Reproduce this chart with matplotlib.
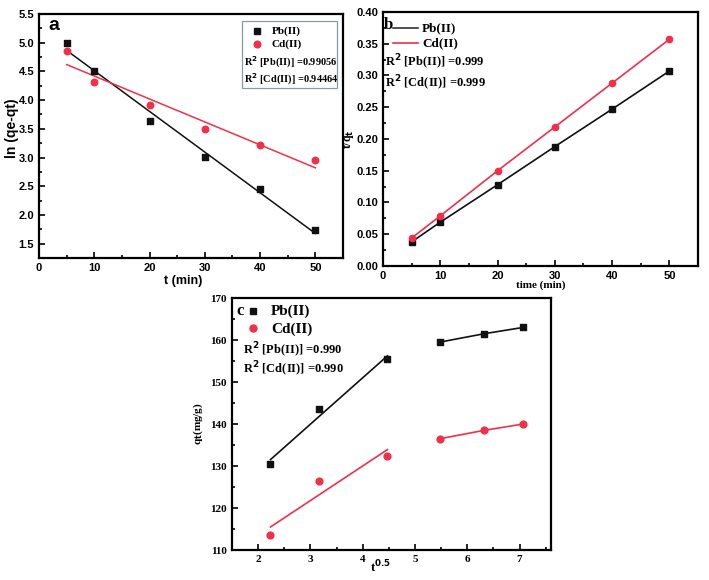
import numpy as np
import matplotlib
matplotlib.use("Agg")
import matplotlib.pyplot as plt
from matplotlib.ticker import MultipleLocator, FormatStrFormatter
from matplotlib.patches import Rectangle

# ---- data ----
t_a = [5, 10, 20, 30, 40, 50]
pb_a = [5.00, 4.51, 3.64, 3.01, 2.45, 1.73]
cd_a = [4.85, 4.31, 3.91, 3.49, 3.21, 2.95]

t_b = [5, 10, 20, 30, 40, 50]
pb_b = [0.038, 0.069, 0.128, 0.188, 0.247, 0.307]
cd_b = [0.044, 0.079, 0.150, 0.219, 0.288, 0.357]

t_c = [2.236, 3.162, 4.472, 5.477, 6.325, 7.071]
pb_c = [130.5, 143.5, 155.5, 159.5, 161.5, 163.0]
cd_c = [113.5, 126.5, 132.5, 136.5, 138.5, 140.0]

labels = ["Pb(II)", "Cd(II)"]
r2_a = ["0.99056", "0.94464"]
r2_b = ["0.999", "0.999"]
r2_c = ["0.990", "0.990"]

BLACK = "#111111"
RED = "#f0304a"

fig = plt.figure(figsize=(7.09, 5.80), dpi=100)
W, H = 709, 580

def ax_px(l, t, r, b):
    ax = fig.add_axes([l / W, 1 - b / H, (r - l) / W, (b - t) / H])
    ax._px = (l, t, r, b)
    return ax

def frac(ax, px, py):
    l, t, r, b = ax._px
    return (px - l) / (r - l), 1 - (py - t) / (b - t)

def style(ax, lw=1.6):
    for s in ax.spines.values():
        s.set_linewidth(lw)
    ax.tick_params(which="both", direction="in", top=False, right=False, width=1.2)
    ax.tick_params(which="major", length=4)
    ax.tick_params(which="minor", length=2.5)

SANS = "Liberation Sans"
SERIF = "Liberation Serif"

def r2text(name, val):
    return r"R$^{\mathbf{2}}$ [" + name + "] =" + val

# ---- panel a ----
axa = ax_px(39, 14, 343, 258)
style(axa)
axa.scatter(t_a, pb_a, marker="s", s=16, color=BLACK, zorder=3)
axa.scatter(t_a, cd_a, marker="o", s=22, color=RED, zorder=3)
xa = np.array([t_a[0], t_a[-1]])
pa = np.polyfit(t_a, pb_a, 1)
ca = np.polyfit(t_a, cd_a, 1)
axa.plot(xa, np.polyval(pa, xa), color=BLACK, lw=1.1)
axa.plot(xa, np.polyval(ca, xa), color=RED, lw=1.1)
axa.set_xlim(0, 55)
axa.set_ylim(1.25, 5.5)
axa.set_xticks([0, 10, 20, 30, 40, 50])
axa.xaxis.set_minor_locator(MultipleLocator(5))
axa.yaxis.set_major_locator(MultipleLocator(0.5))
axa.yaxis.set_minor_locator(MultipleLocator(0.25))
for lab in axa.get_xticklabels() + axa.get_yticklabels():
    lab.set_fontfamily(SANS); lab.set_fontweight("bold"); lab.set_fontsize(8)
axa.set_xlabel("t (min)", fontfamily=SANS, fontweight="bold", fontsize=9)
axa.xaxis.set_label_coords(*frac(axa, 183, 281))
axa.xaxis.label.set_va("center")
axa.set_ylabel("ln (qe-qt)", fontfamily=SANS, fontweight="bold", fontsize=10)
axa.yaxis.set_label_coords(*frac(axa, 12, 128))
axa.yaxis.label.set_va("center")
axa.text(*frac(axa, 48, 17), "a", transform=axa.transAxes, fontfamily=SANS,
         fontweight="bold", fontsize=14, va="top", ha="left")
# legend box
x0, y0 = frac(axa, 242, 88)
x1, y1 = frac(axa, 337, 21)
axa.add_patch(Rectangle((x0, y0), x1 - x0, y1 - y0, transform=axa.transAxes,
                        fill=True, facecolor="white", edgecolor="#8a9aa0", lw=0.9, zorder=4))
axa.plot(*frac(axa, 257, 31), marker="s", ms=4, color=BLACK, transform=axa.transAxes, zorder=5)
axa.plot(*frac(axa, 257, 44), marker="o", ms=4.8, color=RED, transform=axa.transAxes, zorder=5)
kw = dict(transform=axa.transAxes, fontfamily=SERIF, fontweight="bold", va="center", zorder=5)
axa.text(*frac(axa, 272, 31), labels[0], fontsize=8, **kw)
axa.text(*frac(axa, 272, 44), labels[1], fontsize=8, **kw)
axa.text(*frac(axa, 244, 62), r2text(labels[0], r2_a[0]), fontsize=7.5, **kw)
axa.text(*frac(axa, 244, 79), r2text(labels[1], r2_a[1]), fontsize=7.5, **kw)

# ---- panel b ----
axb = ax_px(383, 12, 698, 266)
style(axb)
axb.plot(t_b, pb_b, color=BLACK, lw=1.2, marker="s", ms=3.8, zorder=3)
axb.plot(t_b, cd_b, color=RED, lw=1.2, marker="o", ms=4.5, zorder=3)
axb.set_xlim(0, 55)
axb.set_ylim(0, 0.40)
axb.set_xticks([0, 10, 20, 30, 40, 50])
axb.xaxis.set_minor_locator(MultipleLocator(5))
axb.yaxis.set_major_locator(MultipleLocator(0.05))
axb.yaxis.set_minor_locator(MultipleLocator(0.025))
axb.yaxis.set_major_formatter(FormatStrFormatter("%.2f"))
for lab in axb.get_xticklabels() + axb.get_yticklabels():
    lab.set_fontfamily(SANS); lab.set_fontweight("bold"); lab.set_fontsize(8)
axb.set_xlabel("time (min)", fontfamily=SERIF, fontweight="bold", fontsize=8, labelpad=0)
axb.set_ylabel(r"t/q$_\mathbf{t}$", fontfamily=SERIF, fontweight="bold", fontsize=8.5)
axb.yaxis.set_label_coords(*frac(axb, 348, 139))
axb.yaxis.label.set_va("center")
kwb = dict(transform=axb.transAxes, fontfamily=SERIF, fontweight="bold", va="center", zorder=5)
axb.text(*frac(axb, 384, 25), "b", fontsize=12, **kwb)
for yy, col, lab in [(28, "#333333", labels[0]), (43, RED, labels[1])]:
    xa0, ya0 = frac(axb, 393, yy)
    xa1, _ = frac(axb, 418, yy)
    axb.plot([xa0, xa1], [ya0, ya0], color=col, lw=1.2, transform=axb.transAxes)
    axb.text(*frac(axb, 422, yy), lab, fontsize=9.5, **kwb)
axb.text(*frac(axb, 385, 62), r2text(labels[0], r2_b[0]), fontsize=9, **kwb)
axb.text(*frac(axb, 385, 83), r2text(labels[1], r2_b[1]), fontsize=9, **kwb)

# ---- panel c ----
axc = ax_px(232, 298, 551, 550)
style(axc)
axc.scatter(t_c, pb_c, marker="s", s=18, color=BLACK, zorder=3)
axc.scatter(t_c, cd_c, marker="o", s=24, color=RED, zorder=3)
xc = np.array([t_c[0], t_c[2]])
p1 = np.polyfit(t_c[:3], pb_c[:3], 1)
c1 = np.polyfit(t_c[:3], cd_c[:3], 1)
axc.plot(xc, np.polyval(p1, xc), color=BLACK, lw=1.2)
axc.plot(xc, np.polyval(c1, xc), color=RED, lw=1.2)
axc.plot(t_c[3:], pb_c[3:], color=BLACK, lw=1.2)
axc.plot(t_c[3:], cd_c[3:], color=RED, lw=1.2)
axc.set_xlim(1.5, 7.6)
axc.set_ylim(110, 170)
axc.xaxis.set_major_locator(MultipleLocator(1))
axc.xaxis.set_minor_locator(MultipleLocator(0.5))
axc.yaxis.set_major_locator(MultipleLocator(10))
axc.yaxis.set_minor_locator(MultipleLocator(5))
for lab in axc.get_xticklabels() + axc.get_yticklabels():
    lab.set_fontfamily(SERIF); lab.set_fontweight("bold"); lab.set_fontsize(8)
axc.set_xlabel(r"t$^{\mathbf{0.5}}$", fontfamily=SERIF, fontweight="bold", fontsize=9)
axc.xaxis.set_label_coords(0.465, -0.035)
axc.set_ylabel(r"q$_\mathbf{t}$(mg/g)", fontfamily=SERIF, fontweight="bold", fontsize=8)
axc.yaxis.set_label_coords(-0.085, 0.5)
kwc = dict(transform=axc.transAxes, fontfamily=SERIF, fontweight="bold", va="center", zorder=5)
axc.text(*frac(axc, 236, 311), "c", fontsize=12, **kwc)
axc.plot(*frac(axc, 253, 311), marker="s", ms=4.2, color=BLACK, transform=axc.transAxes)
axc.plot(*frac(axc, 253, 328), marker="o", ms=5, color=RED, transform=axc.transAxes)
axc.text(*frac(axc, 271, 311), labels[0], fontsize=11, **kwc)
axc.text(*frac(axc, 271, 329), labels[1], fontsize=11, **kwc)
axc.text(*frac(axc, 243, 350), r2text(labels[0], r2_c[0]), fontsize=9, **kwc)
axc.text(*frac(axc, 243, 369), r2text(labels[1], r2_c[1]), fontsize=9, **kwc)

fig.savefig("out.png", dpi=100)
